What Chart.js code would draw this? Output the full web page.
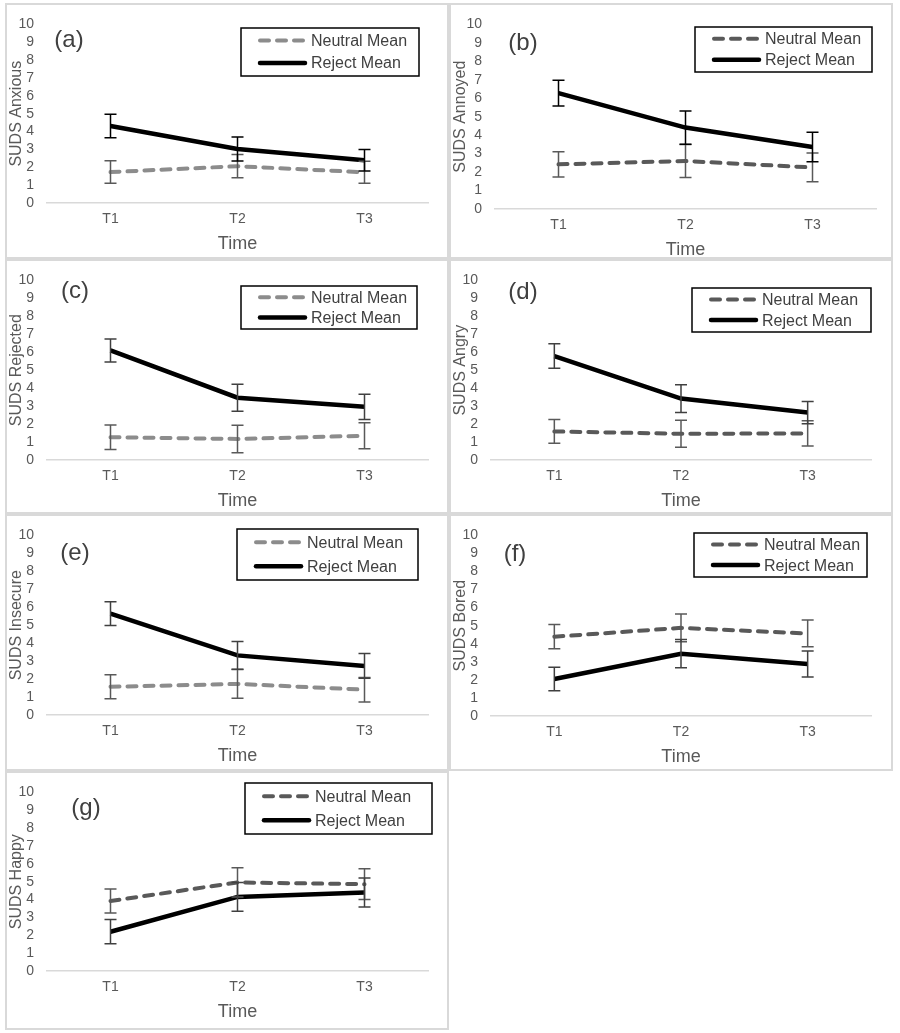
<!DOCTYPE html>
<html>
<head>
<meta charset="utf-8">
<script src="https://cdn.jsdelivr.net/npm/chart.js@4.4.0/dist/chart.umd.min.js"></script>
<style>
body { margin: 0; background: #fff; }
#wrap { position: relative; width: 900px; height: 1033px; }
.frame { position: absolute; box-sizing: border-box; border: 2px solid #d9d9d9; }
canvas { position: absolute; }
</style>
</head>
<body>
<div id="wrap"></div>
<script>
var times = ['T1', 'T2', 'T3'];
var panelTags = ['(a)', '(b)', '(c)', '(d)', '(e)', '(f)', '(g)'];
var yTitles = ['SUDS Anxious', 'SUDS Annoyed', 'SUDS Rejected', 'SUDS Angry', 'SUDS Insecure', 'SUDS Bored', 'SUDS Happy'];
var seriesNames = ['Neutral Mean', 'Reject Mean'];

// means and +/- error, one row per panel (a..g)
var neutralMean = [
    [1.73, 2.06, 1.72],
    [2.42, 2.60, 2.25],
    [1.27, 1.17, 1.35],
    [1.59, 1.46, 1.48],
    [1.57, 1.73, 1.41],
    [4.39, 4.88, 4.57],
    [3.92, 4.96, 4.86]
];
var neutralErr = [
    [0.63, 0.65, 0.62],
    [0.68, 0.90, 0.78],
    [0.68, 0.77, 0.72],
    [0.66, 0.75, 0.70],
    [0.67, 0.80, 0.68],
    [0.67, 0.77, 0.74],
    [0.67, 0.82, 0.86]
];
var rejectMean = [
    [4.31, 3.02, 2.39],
    [6.28, 4.41, 3.36],
    [6.10, 3.47, 2.96],
    [5.79, 3.42, 2.64],
    [5.65, 3.32, 2.73],
    [2.05, 3.45, 2.88],
    [2.20, 4.15, 4.40]
];
var rejectErr = [
    [0.66, 0.67, 0.60],
    [0.70, 0.90, 0.80],
    [0.64, 0.75, 0.70],
    [0.68, 0.77, 0.62],
    [0.66, 0.77, 0.69],
    [0.65, 0.78, 0.72],
    [0.68, 0.80, 0.81]
];

Chart.defaults.font.family = "'Liberation Sans', Arial, sans-serif";

// where each panel sits on the page, plot box [left, top, right, bottom] inside it,
// legend box [x, y, w, h] and the tag centre
var panels = [
    { x: 5,   y: 3,   w: 444, h: 256, plot: [42, 13, 423, 200], legend: [236, 25, 178, 48], tag: [64, 37], nColor: '#8c8c8c', rBar: '#000000' },
    { x: 449, y: 3,   w: 444, h: 256, plot: [46, 18, 427, 206], legend: [246, 24, 177, 45], tag: [74, 40], nColor: '#595959', rBar: '#000000' },
    { x: 5,   y: 259, w: 444, h: 255, plot: [42, 15, 423, 201], legend: [236, 27, 176, 43], tag: [70, 32], nColor: '#8c8c8c', rBar: '#404040' },
    { x: 449, y: 259, w: 444, h: 255, plot: [42, 14, 422, 201], legend: [243, 29, 179, 44], tag: [74, 33], nColor: '#595959', rBar: '#404040' },
    { x: 5,   y: 514, w: 444, h: 257, plot: [42, 14, 423, 201], legend: [232, 15, 181, 51], tag: [70, 39], nColor: '#8c8c8c', rBar: '#404040' },
    { x: 449, y: 514, w: 444, h: 257, plot: [42, 15, 422, 202], legend: [245, 19, 173, 44], tag: [66, 40], nColor: '#595959', rBar: '#404040' },
    { x: 5,   y: 771, w: 444, h: 259, plot: [42, 12, 423, 200], legend: [240, 12, 187, 51], tag: [81, 37], nColor: '#595959', rBar: '#404040' }
];

// error bars, legend box and (a)-style tag
var panelDecor = {
    id: 'panelDecor',
    afterDatasetsDraw: function (chart, args, opts) {
        var ctx = chart.ctx;
        var yScale = chart.scales.y;
        [0, 1].forEach(function (i) {
            var meta = chart.getDatasetMeta(i);
            var ds = chart.data.datasets[i];
            ctx.save();
            ctx.strokeStyle = ds.barColor;
            ctx.lineWidth = 1.5;
            meta.data.forEach(function (pt, j) {
                var top = yScale.getPixelForValue(ds.data[j] + ds.err[j]);
                var bot = yScale.getPixelForValue(ds.data[j] - ds.err[j]);
                ctx.beginPath();
                ctx.moveTo(pt.x, top); ctx.lineTo(pt.x, bot);
                ctx.moveTo(pt.x - 6, top); ctx.lineTo(pt.x + 6, top);
                ctx.moveTo(pt.x - 6, bot); ctx.lineTo(pt.x + 6, bot);
                ctx.stroke();
            });
            ctx.restore();
        });
    },
    afterDraw: function (chart, args, opts) {
        var ctx = chart.ctx;
        var b = opts.legend;
        ctx.save();
        ctx.fillStyle = '#fff';
        ctx.fillRect(b[0], b[1], b[2], b[3]);
        ctx.strokeStyle = '#000';
        ctx.lineWidth = 1.5;
        ctx.strokeRect(b[0], b[1], b[2], b[3]);
        chart.data.datasets.forEach(function (ds, i) {
            var ly = b[1] + b[3] * (i === 0 ? 0.26 : 0.73);
            ctx.beginPath();
            ctx.strokeStyle = ds.borderColor;
            ctx.lineWidth = ds.borderWidth;
            ctx.lineCap = 'round';
            ctx.setLineDash(ds.borderDash || []);
            ctx.moveTo(b[0] + 19, ly);
            ctx.lineTo(b[0] + 64, ly);
            ctx.stroke();
            ctx.setLineDash([]);
            ctx.fillStyle = '#404040';
            ctx.font = "16px 'Liberation Sans', Arial, sans-serif";
            ctx.textBaseline = 'middle';
            ctx.textAlign = 'left';
            ctx.fillText(ds.label, b[0] + 70, ly + 1);
        });
        ctx.fillStyle = '#404040';
        ctx.font = "24px 'Liberation Sans', Arial, sans-serif";
        ctx.textAlign = 'center';
        ctx.textBaseline = 'middle';
        ctx.fillText(opts.tag, opts.tagPos[0], opts.tagPos[1]);
        ctx.restore();
    }
};

var wrap = document.getElementById('wrap');

panels.forEach(function (p, k) {
    var frame = document.createElement('div');
    frame.className = 'frame';
    frame.style.left = p.x + 'px';
    frame.style.top = p.y + 'px';
    frame.style.width = p.w + 'px';
    frame.style.height = p.h + 'px';
    wrap.appendChild(frame);

    var cv = document.createElement('canvas');
    cv.width = p.w;
    cv.height = p.h;
    cv.style.left = p.x + 'px';
    cv.style.top = p.y + 'px';
    wrap.appendChild(cv);

    var xH = p.h - p.plot[3];
    var timePad = xH - 41 - 10.8;

    new Chart(cv, {
        type: 'line',
        data: {
            labels: times,
            datasets: [
                {
                    label: seriesNames[0],
                    data: neutralMean[k],
                    err: neutralErr[k],
                    barColor: '#595959',
                    borderColor: p.nColor,
                    borderWidth: 4,
                    borderDash: [9, 8],
                    borderCapStyle: 'round',
                    pointRadius: 0,
                    tension: 0,
                    order: 2
                },
                {
                    label: seriesNames[1],
                    data: rejectMean[k],
                    err: rejectErr[k],
                    barColor: p.rBar,
                    borderColor: '#000000',
                    borderWidth: 4.5,
                    pointRadius: 0,
                    tension: 0,
                    order: 1
                }
            ]
        },
        options: {
            responsive: false,
            animation: false,
            layout: { padding: { top: p.plot[1], right: p.w - p.plot[2], left: 0, bottom: 0 } },
            plugins: {
                legend: { display: false },
                tooltip: { enabled: false },
                panelDecor: { legend: p.legend, tag: panelTags[k], tagPos: p.tag }
            },
            scales: {
                x: {
                    offset: true,
                    grid: { display: false, drawTicks: false },
                    border: { display: true, color: '#d9d9d9', width: 1.5 },
                    ticks: { color: '#595959', font: { size: 14 }, padding: 8 },
                    title: { display: true, text: 'Time', color: '#595959', font: { size: 18 }, padding: { top: 0, bottom: timePad } },
                    afterFit: function (scale) { scale.height = xH; }
                },
                y: {
                    min: 0,
                    max: 10,
                    grid: { display: false, drawTicks: false },
                    border: { display: false },
                    ticks: { stepSize: 1, autoSkip: false, color: '#595959', font: { size: 14 }, padding: 13 },
                    title: { display: true, text: yTitles[k], color: '#595959', font: { size: 16 }, padding: { top: 2, bottom: 0 } },
                    afterFit: function (scale) { scale.width = p.plot[0]; }
                }
            }
        },
        plugins: [panelDecor]
    });
});
</script>
</body>
</html>
